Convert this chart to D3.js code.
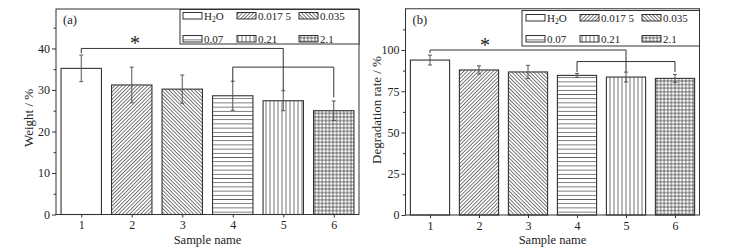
<!DOCTYPE html>
<html><head><meta charset="utf-8">
<script src="https://cdn.jsdelivr.net/npm/d3@7"></script>
<style>body{margin:0;background:#fff}svg{display:block}text{font-family:"Liberation Serif","Times New Roman",serif;fill:#222}</style>
</head><body>
<script>
const samples = [1, 2, 3, 4, 5, 6];
const seriesNames = ["H\u2082O", "0.017 5", "0.035", "0.07", "0.21", "2.1"];
const weightValues = [35.2, 31.2, 30.2, 28.6, 27.4, 25.0];
const weightErrors = [3.2, 4.3, 3.4, 3.5, 2.4, 2.35];
const degradValues = [93.9, 87.9, 86.7, 84.6, 83.6, 82.8];
const degradErrors = [3.0, 2.5, 4.0, 1.2, 3.0, 2.4];
const weightTicks = [0, 10, 20, 30, 40];
const weightMinor = [5, 15, 25, 35, 45];
const degradTicks = [0, 25, 50, 75, 100];
const degradMinor = [12.5, 37.5, 62.5, 87.5, 112.5];
// brackets: [from sample, to sample, level, left leg end, right leg end]
const weightBrackets = [[1, 5, 40, 38.8, 29.8], [4, 6, 35.5, 32.0, 28.2]];
const degradBrackets = [[1, 5, 100, 98.2, 86.7], [4, 6, 93, 86.7, 86.7]];

const W = 730, H = 251;
const svg = d3.select("body").append("svg").attr("width", W).attr("height", H);
const defs = svg.append("defs");
const ink = "#333";

function linePattern(id, spacing, angle) {
  const p = defs.append("pattern").attr("id", id).attr("patternUnits", "userSpaceOnUse")
    .attr("width", spacing).attr("height", 10).attr("patternTransform", `rotate(${angle})`);
  p.append("rect").attr("width", spacing).attr("height", 10).attr("fill", "#fff");
  p.append("line").attr("x1", spacing / 2).attr("x2", spacing / 2).attr("y1", 0).attr("y2", 10)
    .attr("stroke", ink).attr("stroke-width", 0.7);
}
linePattern("p1", 2.6, 45);
linePattern("p2", 2.6, -45);
linePattern("p3", 4.2, 90);
linePattern("p4", 4.0, 0);
(function () {
  const s = 3.6;
  const p = defs.append("pattern").attr("id", "p5").attr("patternUnits", "userSpaceOnUse")
    .attr("width", s).attr("height", s);
  p.append("rect").attr("width", s).attr("height", s).attr("fill", "#fff");
  p.append("line").attr("x1", s / 2).attr("x2", s / 2).attr("y1", 0).attr("y2", s).attr("stroke", ink).attr("stroke-width", 0.7);
  p.append("line").attr("y1", s / 2).attr("y2", s / 2).attr("x1", 0).attr("x2", s).attr("stroke", ink).attr("stroke-width", 0.7);
})();
const fills = ["#fff", "url(#p1)", "url(#p2)", "url(#p3)", "url(#p4)", "url(#p5)"];

function panel(cfg) {
  const g = svg.append("g");
  const x = d3.scaleLinear().domain([0.5, 6.5]).range([cfg.left, cfg.right]);
  const y = d3.scaleLinear().domain([0, cfg.ymax]).range([cfg.bottom, cfg.top]);
  const bw = (x(2) - x(1)) * 0.8;

  g.selectAll("rect.bar").data(samples).join("rect").attr("class", "bar")
    .attr("x", d => x(d) - bw / 2).attr("width", bw)
    .attr("y", (d, i) => y(cfg.values[i])).attr("height", (d, i) => y(0) - y(cfg.values[i]))
    .attr("fill", (d, i) => fills[i]).attr("stroke", ink).attr("stroke-width", 1.1);

  const eg = g.append("g").attr("stroke", "#555").attr("stroke-width", 1);
  samples.forEach((d, i) => {
    const v = cfg.values[i], e = cfg.errors[i];
    eg.append("line").attr("x1", x(d)).attr("x2", x(d)).attr("y1", y(v + e)).attr("y2", y(v - e));
    eg.append("line").attr("x1", x(d) - 2).attr("x2", x(d) + 2).attr("y1", y(v + e)).attr("y2", y(v + e));
    eg.append("line").attr("x1", x(d) - 2).attr("x2", x(d) + 2).attr("y1", y(v - e)).attr("y2", y(v - e));
  });

  cfg.brackets.forEach(b => {
    g.append("path").attr("fill", "none").attr("stroke", ink).attr("stroke-width", 1)
      .attr("d", `M${x(b[0])},${y(b[3])}V${y(b[2])}H${x(b[1])}V${y(b[4])}`);
  });
  g.append("text").attr("x", cfg.starX).attr("y", cfg.starY).attr("text-anchor", "middle")
    .attr("font-size", 20).text("*");

  const ya = g.append("g").attr("transform", `translate(${cfg.left},0)`)
    .call(d3.axisLeft(y).tickValues(cfg.ticks).tickSize(4).tickPadding(2).tickFormat(d3.format("d")));
  const ym = g.append("g").attr("transform", `translate(${cfg.left},0)`)
    .call(d3.axisLeft(y).tickValues(cfg.minor).tickSize(2.5).tickFormat(""));
  const xa = g.append("g").attr("transform", `translate(0,${cfg.bottom})`)
    .call(d3.axisBottom(x).tickValues(samples).tickSize(3).tickPadding(3).tickFormat(d3.format("d")));
  [ya, ym, xa].forEach(a => {
    a.select(".domain").remove();
    a.selectAll("line").attr("stroke", ink);
    a.selectAll("text").attr("font-size", 12).attr("fill", "#222")
      .attr("font-family", "'Liberation Serif', serif");
  });
  g.append("rect").attr("x", cfg.left).attr("y", cfg.top).attr("width", cfg.right - cfg.left)
    .attr("height", cfg.bottom - cfg.top).attr("fill", "none").attr("stroke", ink).attr("stroke-width", 1);

  g.append("text").attr("x", cfg.left + 7).attr("y", cfg.top + 15).attr("font-size", 12.5).text(cfg.tag);
  g.append("text").attr("transform", `translate(${cfg.ylabX},${cfg.ylabY}) rotate(-90)`)
    .attr("text-anchor", "middle").attr("font-size", 13).text(cfg.ylabel);
  g.append("text").attr("x", (cfg.left + cfg.right) / 2).attr("y", 244).attr("text-anchor", "middle")
    .attr("font-size", 12.5).text("Sample name");

  const L = cfg.legend;
  g.append("rect").attr("x", L.x0).attr("y", L.y0).attr("width", cfg.right - L.x0).attr("height", L.y1 - L.y0)
    .attr("fill", "#fff").attr("stroke", ink).attr("stroke-width", 1);
  seriesNames.forEach((name, i) => {
    const col = i % 3, row = Math.floor(i / 3);
    const sx = L.cols[col], sy = L.rows[row];
    g.append("rect").attr("x", sx).attr("y", sy - 3.5).attr("width", 19).attr("height", 6.5)
      .attr("fill", fills[i]).attr("stroke", ink).attr("stroke-width", 1);
    const t = g.append("text").attr("x", sx + 21).attr("y", sy + 3.5).attr("font-size", 11);
    if (i === 0) {
      t.append("tspan").text("H");
      t.append("tspan").attr("font-size", 7.5).attr("dy", 2.5).text("2");
      t.append("tspan").attr("dy", -2.5).text("O");
    } else t.text(name);
  });
}

panel({
  left: 56, right: 359, top: 9, bottom: 214.5, ymax: 49.5,
  values: weightValues, errors: weightErrors, ticks: weightTicks, minor: weightMinor,
  brackets: weightBrackets, starX: 135, starY: 50, tag: "(a)",
  ylabel: "Weight / %", ylabX: 33, ylabY: 118,
  legend: {x0: 180, y0: 9.5, y1: 44, cols: [183, 237, 299], rows: [16, 39]}
});
panel({
  left: 405.5, right: 699.5, top: 8.75, bottom: 215, ymax: 125,
  values: degradValues, errors: degradErrors, ticks: degradTicks, minor: degradMinor,
  brackets: degradBrackets, starX: 485, starY: 52, tag: "(b)",
  ylabel: "Degradation rate / %", ylabX: 381, ylabY: 110,
  legend: {x0: 522, y0: 10.5, y1: 46, cols: [526, 580, 642], rows: [18, 39]}
});
</script>
</body></html>
